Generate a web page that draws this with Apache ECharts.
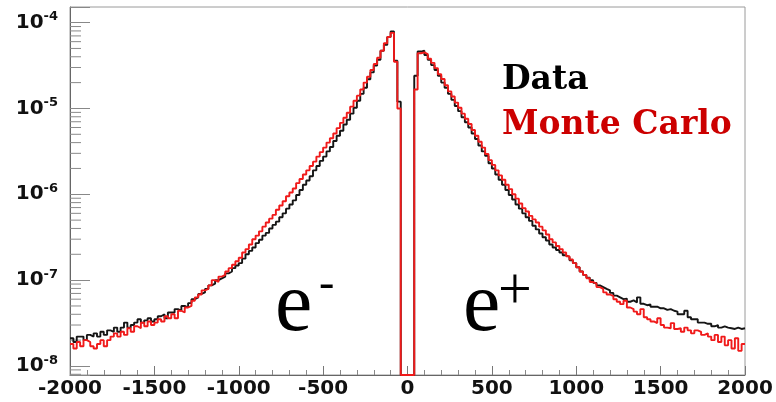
<!DOCTYPE html>
<html>
<head>
<meta charset="utf-8">
<script src="https://cdn.jsdelivr.net/npm/echarts@6/dist/echarts.min.js"></script>
<style>
  html, body { margin: 0; padding: 0; background: #fff; }
  #chart { width: 776px; height: 402px; }
</style>
</head>
<body>
<div id="chart"></div>
<script>
// Histogram binning of the horizontal axis
const X_MIN = -2000;
const X_MAX = 2000;
const BIN_WIDTH = 20;

// Vertical (log) range
const Y_MIN = 7.85e-9;
const Y_MAX = 1.52e-4;

// Series names
const seriesNames = ['Data', 'Monte Carlo'];

// Particle labels
const particleLabels = ['e', 'e'];
const particleCharges = ['-', '+'];

// Data: bin contents from -2000 to -40
const dataNeg = [
  2.1e-8, 1.9e-8, 2.2e-8, 2.2e-8, 2.0e-8, 2.3e-8, 2.2e-8, 2.4e-8, 2.2e-8, 2.5e-8,
  2.3e-8, 2.6e-8, 2.5e-8, 2.8e-8, 2.5e-8, 2.8e-8, 3.2e-8, 2.8e-8, 3.0e-8, 3.2e-8,
  3.5e-8, 3.2e-8, 3.4e-8, 3.6e-8, 3.3e-8, 3.5e-8, 3.8e-8, 4.0e-8, 3.6e-8, 4.2e-8,
  4.2e-8, 4.6e-8, 4.4e-8, 5.0e-8, 4.8e-8, 5.4e-8, 6.0e-8, 6.3e-8, 6.9e-8, 7.2e-8,
  7.9e-8, 8.7e-8, 9.1e-8, 1.0e-7, 1.05e-7, 1.1e-7, 1.2e-7, 1.26e-7, 1.38e-7, 1.48e-7,
  1.58e-7, 1.78e-7, 2.0e-7, 2.19e-7, 2.4e-7, 2.7e-7, 2.95e-7, 3.3e-7, 3.55e-7, 4.0e-7,
  4.4e-7, 4.8e-7, 5.4e-7, 6.0e-7, 6.8e-7, 7.6e-7, 8.5e-7, 9.8e-7, 1.12e-6, 1.29e-6,
  1.45e-6, 1.62e-6, 1.9e-6, 2.14e-6, 2.45e-6, 2.75e-6, 3.16e-6, 3.55e-6, 4.17e-6, 4.8e-6,
  5.5e-6, 6.5e-6, 7.4e-6, 8.7e-6, 1.02e-5, 1.23e-5, 1.48e-5, 1.74e-5, 2.19e-5, 2.63e-5,
  3.16e-5, 3.7e-5, 4.7e-5, 5.5e-5, 6.8e-5, 7.9e-5, 3.6e-5, 1.2e-5
];
// Data: empty bins from -40 to 40
const dataGap = [0, 0, 0, 0];
// Data: bin contents from 40 to 2000
const dataPos = [
  2.4e-5, 4.6e-5, 4.7e-5, 4.2e-5, 3.7e-5, 3.2e-5, 2.8e-5, 2.4e-5, 2.0e-5, 1.74e-5,
  1.48e-5, 1.26e-5, 1.07e-5, 9.3e-6, 7.9e-6, 6.9e-6, 6.0e-6, 5.1e-6, 4.4e-6, 3.7e-6,
  3.16e-6, 2.8e-6, 2.3e-6, 2.0e-6, 1.7e-6, 1.48e-6, 1.29e-6, 1.12e-6, 9.8e-7, 8.7e-7,
  7.6e-7, 6.8e-7, 6.0e-7, 5.4e-7, 4.9e-7, 4.3e-7, 3.9e-7, 3.5e-7, 3.16e-7, 2.9e-7,
  2.6e-7, 2.4e-7, 2.24e-7, 2.1e-7, 1.95e-7, 1.86e-7, 1.7e-7, 1.58e-7, 1.41e-7, 1.26e-7,
  1.15e-7, 1.07e-7, 1.0e-7, 9.3e-8, 8.7e-8, 8.3e-8, 7.9e-8, 7.6e-8, 7.1e-8, 6.6e-8,
  6.3e-8, 6.0e-8, 6.1e-8, 5.6e-8, 5.8e-8, 5.5e-8, 6.3e-8, 5.3e-8, 5.1e-8, 5.2e-8,
  4.9e-8, 4.9e-8, 4.7e-8, 4.7e-8, 4.5e-8, 4.6e-8, 4.4e-8, 4.3e-8, 4.0e-8, 4.0e-8,
  4.4e-8, 3.7e-8, 3.5e-8, 3.5e-8, 3.2e-8, 3.2e-8, 3.1e-8, 3.1e-8, 2.9e-8, 3.0e-8,
  2.8e-8, 2.9e-8, 2.8e-8, 2.75e-8, 2.7e-8, 2.8e-8, 2.7e-8, 2.75e-8
];

// Monte Carlo: bin contents from -2000 to -40
const mcNeg = [
  1.8e-8, 1.6e-8, 1.9e-8, 1.7e-8, 2.0e-8, 1.9e-8, 1.7e-8, 1.6e-8, 1.8e-8, 2.0e-8,
  1.7e-8, 2.0e-8, 2.2e-8, 2.4e-8, 2.2e-8, 2.5e-8, 2.3e-8, 2.75e-8, 2.5e-8, 2.9e-8,
  2.75e-8, 3.2e-8, 2.9e-8, 3.3e-8, 3.0e-8, 3.2e-8, 3.5e-8, 3.3e-8, 3.8e-8, 3.6e-8,
  4.0e-8, 3.6e-8, 4.4e-8, 4.2e-8, 4.8e-8, 5.0e-8, 5.75e-8, 6.3e-8, 6.8e-8, 7.6e-8,
  7.9e-8, 8.7e-8, 1.0e-7, 9.5e-8, 1.1e-7, 1.15e-7, 1.26e-7, 1.38e-7, 1.51e-7, 1.66e-7,
  1.82e-7, 2.1e-7, 2.3e-7, 2.6e-7, 3.0e-7, 3.3e-7, 3.7e-7, 4.2e-7, 4.7e-7, 5.2e-7,
  5.75e-7, 6.6e-7, 7.4e-7, 8.3e-7, 9.5e-7, 1.05e-6, 1.17e-6, 1.35e-6, 1.51e-6, 1.7e-6,
  1.9e-6, 2.14e-6, 2.4e-6, 2.75e-6, 3.1e-6, 3.5e-6, 4.0e-6, 4.5e-6, 5.1e-6, 5.9e-6,
  6.8e-6, 7.8e-6, 8.9e-6, 1.05e-5, 1.23e-5, 1.41e-5, 1.66e-5, 2.0e-5, 2.34e-5, 2.8e-5,
  3.3e-5, 3.9e-5, 4.7e-5, 5.75e-5, 6.8e-5, 7.6e-5, 3.5e-5, 1.0e-5
];
// Monte Carlo: empty bins from -40 to 40
const mcGap = [0, 0, 0, 0];
// Monte Carlo: bin contents from 40 to 2000
const mcPos = [
  1.66e-5, 4.4e-5, 4.5e-5, 4.3e-5, 3.8e-5, 3.4e-5, 2.95e-5, 2.5e-5, 2.2e-5, 1.86e-5,
  1.58e-5, 1.38e-5, 1.17e-5, 1.02e-5, 8.7e-6, 7.6e-6, 6.6e-6, 5.6e-6, 4.8e-6, 4.1e-6,
  3.5e-6, 2.95e-6, 2.5e-6, 2.2e-6, 1.9e-6, 1.66e-6, 1.48e-6, 1.29e-6, 1.15e-6, 1.0e-6,
  8.9e-7, 7.8e-7, 6.9e-7, 6.3e-7, 5.6e-7, 5.1e-7, 4.7e-7, 4.2e-7, 3.8e-7, 3.4e-7,
  3.0e-7, 2.75e-7, 2.5e-7, 2.3e-7, 2.1e-7, 1.9e-7, 1.74e-7, 1.58e-7, 1.41e-7, 1.26e-7,
  1.15e-7, 1.05e-7, 9.5e-8, 9.1e-8, 8.3e-8, 7.9e-8, 7.2e-8, 6.8e-8, 6.5e-8, 6.0e-8,
  5.6e-8, 5.25e-8, 5.75e-8, 4.8e-8, 4.6e-8, 4.3e-8, 4.0e-8, 4.6e-8, 3.7e-8, 3.5e-8,
  3.3e-8, 3.16e-8, 3.6e-8, 3.0e-8, 2.8e-8, 2.75e-8, 3.16e-8, 2.7e-8, 2.75e-8, 2.5e-8,
  2.8e-8, 2.6e-8, 2.4e-8, 2.6e-8, 2.5e-8, 2.3e-8, 2.4e-8, 2.2e-8, 2.0e-8, 2.3e-8,
  1.9e-8, 2.2e-8, 1.74e-8, 2.0e-8, 1.6e-8, 2.1e-8, 1.5e-8, 1.8e-8
];

const dataCounts = dataNeg.concat(dataGap, dataPos);
const mcCounts = mcNeg.concat(mcGap, mcPos);

// Step outline: one point at each bin's left edge plus the closing right edge.
// Empty bins drop to the bottom of the frame.
function histOutline(counts) {
  const pts = counts.map((c, i) => [X_MIN + i * BIN_WIDTH, c > 0 ? c : Y_MIN]);
  const last = counts[counts.length - 1];
  pts.push([X_MIN + counts.length * BIN_WIDTH, last > 0 ? last : Y_MIN]);
  return pts;
}

// Minor ticks of the log axis at 2..9 x 10^n
const minorTickValues = [];
for (let p = -9; p <= -4; p++) {
  for (let k = 2; k <= 9; k++) {
    const v = k * Math.pow(10, p);
    if (v > Y_MIN && v < Y_MAX) minorTickValues.push([X_MIN, v]);
  }
}

const AXIS_FONT = 'DejaVu Sans';
const chart = echarts.init(document.getElementById('chart'), null, { renderer: 'canvas' });

chart.setOption({
  animation: false,
  backgroundColor: '#ffffff',
  grid: {
    left: 70, right: 31, top: 7, bottom: 27,
    show: true, borderColor: '#9a9a9a', borderWidth: 1
  },
  legend: {
    orient: 'vertical',
    left: 497, top: 60,
    padding: 0,
    itemGap: 5,
    itemWidth: 0,
    itemHeight: 0,
    icon: 'none',
    selectedMode: false,
    textStyle: {
      fontFamily: 'DejaVu Serif', fontWeight: 'bold', fontSize: 33, lineHeight: 40
    },
    data: [
      { name: seriesNames[0], textStyle: { color: '#000000' } },
      { name: seriesNames[1], textStyle: { color: '#cc0000' } }
    ]
  },
  xAxis: {
    type: 'value',
    min: X_MIN, max: X_MAX, interval: 500,
    axisLine: { show: true, onZero: false, lineStyle: { color: '#666', width: 1 } },
    axisTick: { show: true, inside: true, length: 9, lineStyle: { color: '#777' } },
    minorTick: { show: true, splitNumber: 5, length: 5, lineStyle: { color: '#888' } },
    splitLine: { show: false },
    axisLabel: {
      margin: 4, color: '#111',
      fontFamily: AXIS_FONT, fontWeight: 'bold', fontSize: 20,
      formatter: function (v) { return String(v); }
    }
  },
  yAxis: {
    type: 'log',
    logBase: 10,
    min: Y_MIN, max: Y_MAX,
    axisLine: { show: true, onZero: false, lineStyle: { color: '#666', width: 1 } },
    axisTick: { show: true, inside: true, length: 20, lineStyle: { color: '#888' } },
    splitLine: { show: false },
    axisLabel: {
      margin: 12,
      formatter: function (v) {
        const e = Math.log10(v);
        const r = Math.round(e);
        if (Math.abs(e - r) > 1e-6) return '';
        return '{n|10}{e|' + r + '}';
      },
      rich: {
        n: { fontFamily: AXIS_FONT, fontWeight: 'bold', fontSize: 20, color: '#111', lineHeight: 24 },
        e: { fontFamily: AXIS_FONT, fontWeight: 'bold', fontSize: 13, color: '#111', lineHeight: 12, verticalAlign: 'top' }
      }
    }
  },
  graphic: [
    { type: 'text', left: 275, top: 266, style: { text: particleLabels[0], font: '84px "Liberation Serif"', fill: '#000' } },
    { type: 'text', left: 319, top: 262, style: { text: particleCharges[0], font: '46px "Liberation Serif"', fill: '#000' } },
    { type: 'text', left: 463, top: 266, style: { text: particleLabels[1], font: '84px "Liberation Serif"', fill: '#000' } },
    { type: 'text', left: 498, top: 262, style: { text: particleCharges[1], font: '60px "Liberation Serif"', fill: '#000' } }
  ],
  series: [
    {
      name: 'yMinorTicks',
      type: 'custom',
      silent: true,
      clip: true,
      data: minorTickValues,
      renderItem: function (params, api) {
        const p = api.coord([api.value(0), api.value(1)]);
        return {
          type: 'line',
          shape: { x1: p[0], y1: p[1], x2: p[0] + 11, y2: p[1] },
          style: { stroke: '#8a8a8a', lineWidth: 1 }
        };
      },
      z: 1
    },
    {
      name: seriesNames[0],
      type: 'line',
      step: 'end',
      showSymbol: false,
      data: histOutline(dataCounts),
      lineStyle: { color: '#151515', width: 1.9 },
      itemStyle: { color: '#000' },
      z: 3
    },
    {
      name: seriesNames[1],
      type: 'line',
      step: 'end',
      showSymbol: false,
      data: histOutline(mcCounts),
      lineStyle: { color: '#f01a1a', width: 1.9 },
      itemStyle: { color: '#cc0000' },
      z: 4
    }
  ]
});
</script>
</body>
</html>
